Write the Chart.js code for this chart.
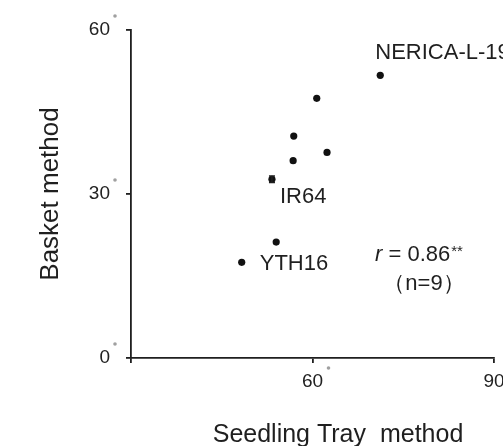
<!DOCTYPE html>
<html>
<head>
<meta charset="utf-8">
<script src="https://cdn.jsdelivr.net/npm/chart.js@4.4.0/dist/chart.umd.min.js"></script>
<style>
  html, body { margin: 0; padding: 0; background: #fff; }
  canvas { display: block; }
</style>
</head>
<body>
<canvas id="scatterChart" width="503" height="446"></canvas>
<script>
// values: seedling tray method (x) vs basket method (y)
var trayValues   = [71.2, 60.7, 56.9, 62.4, 56.8, 53.3, 54.0, 48.3];
var basketValues = [51.7, 47.5, 40.6, 37.6, 36.1, 32.7, 21.2, 17.5];
var basketErr    = [0, 0, 0, 0, 0, 0.6, 0, 0];
var pointNames   = ['NERICA-L-19', '', '', '', '', 'IR64', '', 'YTH16'];
var xTicks = [30, 60, 90];
var yTicks = [0, 30, 60];
var statText = 'r = 0.86**';
var countText = '（n=9）';

var FONT = "'Liberation Sans', Arial, sans-serif";
var INK = '#1f1f1f';

// where each name sits relative to its point (pixels)
var nameOffsets = { 'NERICA-L-19': [-5, -16], 'IR64': [8, 24], 'YTH16': [18, 8] };

var points = trayValues.map(function(x, i) { return { x: x, y: basketValues[i] }; });

var annotationPlugin = {
    id: 'annotations',
    afterDatasetsDraw: function(chart) {
        var ctx = chart.ctx;
        var xs = chart.scales.x, ys = chart.scales.y;
        ctx.save();

        // error bars
        ctx.strokeStyle = INK;
        ctx.lineWidth = 1.5;
        basketErr.forEach(function(err, i) {
            if (!err) return;
            var px = xs.getPixelForValue(trayValues[i]);
            var top = ys.getPixelForValue(basketValues[i] + err);
            var bot = ys.getPixelForValue(basketValues[i] - err);
            ctx.beginPath();
            ctx.moveTo(px, top); ctx.lineTo(px, bot);
            ctx.moveTo(px - 3, top); ctx.lineTo(px + 3, top);
            ctx.moveTo(px - 3, bot); ctx.lineTo(px + 3, bot);
            ctx.stroke();
        });

        // point names
        ctx.fillStyle = INK;
        ctx.font = '22px ' + FONT;
        ctx.textAlign = 'left';
        ctx.textBaseline = 'alphabetic';
        pointNames.forEach(function(name, i) {
            if (!name) return;
            var off = nameOffsets[name] || [6, 0];
            ctx.fillText(name, xs.getPixelForValue(trayValues[i]) + off[0],
                               ys.getPixelForValue(basketValues[i]) + off[1]);
        });

        // correlation text
        var sx = 375, sy = 261;
        ctx.font = 'italic 22px ' + FONT;
        ctx.fillText(statText.charAt(0), sx, sy);
        var w = ctx.measureText(statText.charAt(0)).width;
        var body = statText.slice(1).replace('**', '');
        ctx.font = '22px ' + FONT;
        ctx.fillText(body, sx + w, sy);
        w += ctx.measureText(body).width;
        ctx.font = '15px ' + FONT;
        ctx.fillText('**', sx + w + 1, sy - 5);

        ctx.font = '22px ' + FONT;
        ctx.textAlign = 'center';
        ctx.fillText(countText, 424, 290);

        // little grey dots beside the tick labels
        ctx.fillStyle = '#a0a0a0';
        yTicks.forEach(function(v) {
            ctx.beginPath();
            ctx.arc(115, ys.getPixelForValue(v) - 14, 1.8, 0, Math.PI * 2);
            ctx.fill();
        });
        ctx.beginPath();
        ctx.arc(xs.getPixelForValue(60) + 16, ys.bottom + 10, 1.8, 0, Math.PI * 2);
        ctx.fill();

        // axis titles
        ctx.fillStyle = INK;
        ctx.font = '25px ' + FONT;
        ctx.textAlign = 'center';
        ctx.fillText('Seedling Tray  method', 338, 442);
        ctx.save();
        ctx.font = '26px ' + FONT;
        ctx.translate(58, 194);
        ctx.rotate(-Math.PI / 2);
        ctx.fillText('Basket method', 0, 0);
        ctx.restore();

        ctx.restore();
    }
};

new Chart(document.getElementById('scatterChart'), {
    type: 'scatter',
    data: {
        datasets: [{
            data: points,
            backgroundColor: '#111',
            borderWidth: 0,
            pointRadius: 3.6,
            pointHoverRadius: 3.6
        }]
    },
    options: {
        responsive: false,
        animation: false,
        events: [],
        layout: { padding: { left: 0, right: 9, top: 30, bottom: 0 } },
        plugins: { legend: { display: false }, tooltip: { enabled: false } },
        scales: {
            x: {
                type: 'linear', min: 30, max: 90,
                afterBuildTicks: function(axis) { axis.ticks = xTicks.map(function(v) { return { value: v }; }); },
                afterFit: function(axis) { axis.height = 88; axis.paddingLeft = 0; axis.paddingRight = 0; },
                grid: { display: true, drawOnChartArea: false, drawTicks: true, tickLength: 5, color: INK, lineWidth: 1.8 },
                border: { display: true, color: INK, width: 1.8 },
                ticks: {
                    padding: 7, color: '#222', font: { family: FONT, size: 19 }, maxRotation: 0,
                    callback: function(v) { return v === 30 ? '' : v; }
                }
            },
            y: {
                type: 'linear', min: 0, max: 60,
                afterBuildTicks: function(axis) { axis.ticks = yTicks.map(function(v) { return { value: v }; }); },
                afterFit: function(axis) { axis.width = 131; axis.paddingTop = 0; axis.paddingBottom = 0; },
                grid: { display: true, drawOnChartArea: false, drawTicks: true, tickLength: 5, color: INK, lineWidth: 1.8 },
                border: { display: true, color: INK, width: 1.8 },
                ticks: { padding: 16, color: '#222', font: { family: FONT, size: 19 } }
            }
        }
    },
    plugins: [annotationPlugin]
});
</script>
</body>
</html>
